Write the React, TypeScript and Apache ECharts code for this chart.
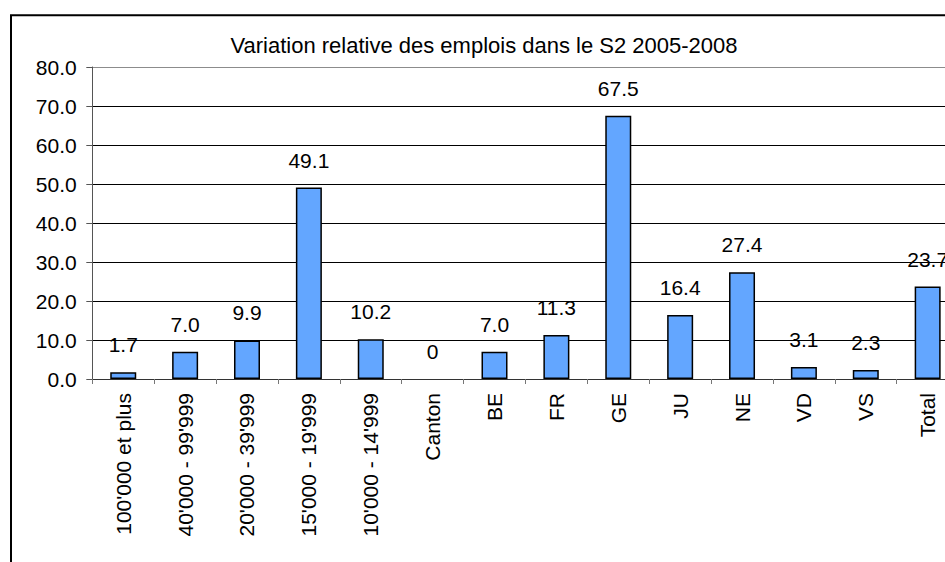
import React, { useEffect, useRef } from "react";
import * as echarts from "echarts";

const categories: string[] = [
  "100'000 et plus",
  "40'000 - 99'999",
  "20'000 - 39'999",
  "15'000 - 19'999",
  "10'000 - 14'999",
  "Canton",
  "BE",
  "FR",
  "GE",
  "JU",
  "NE",
  "VD",
  "VS",
  "Total",
];
const values: number[] = [1.7, 7.0, 9.9, 49.1, 10.2, 0, 7.0, 11.3, 67.5, 16.4, 27.4, 3.1, 2.3, 23.7];
const titleText = "Variation relative des emplois dans le S2 2005-2008";
const yMin = 0;
const yMax = 80;
const yInterval = 10;

const FONT = "'Liberation Sans', Arial, sans-serif";

export default function App() {
  const ref = useRef<HTMLDivElement>(null);
  useEffect(() => {
    if (!ref.current) return;
    const chart = echarts.init(ref.current, null, { renderer: "svg" });
    const gridColors = ["#000", "#000", "#000", "#000", "#000", "#000", "#000", "#000", "#8c8c8c"];
    const barData = values.map((v) =>
      v === 0 ? { value: v, itemStyle: { borderWidth: 0, opacity: 0 } } : v
    );
    chart.setOption({
      animation: false,
      backgroundColor: "#fff",
      textStyle: { fontFamily: FONT },
      graphic: [
        {
          type: "rect",
          shape: { x: 11, y: 15.3, width: 1100, height: 800 },
          style: { fill: "none", stroke: "#000", lineWidth: 2 },
          z: 10,
        },
        {
          type: "text",
          x: 484,
          y: 45.5,
          style: {
            text: titleText,
            fontSize: 22,
            fontFamily: FONT,
            fill: "#000",
            textAlign: "center",
            textVerticalAlign: "middle",
          },
        },
      ],
      grid: { left: 92.3, top: 67, right: 41.4, bottom: 241 },
      xAxis: {
        type: "category",
        data: categories,
        axisLine: { show: true, lineStyle: { color: "#333", width: 1 } },
        axisTick: { show: true, length: 5, alignWithLabel: false, lineStyle: { color: "#777" } },
        axisLabel: {
          rotate: 90,
          interval: 0,
          fontSize: 21,
          fontFamily: FONT,
          color: "#000",
          margin: 14,
        },
        splitLine: { show: false },
      },
      yAxis: {
        type: "value",
        min: yMin,
        max: yMax,
        interval: yInterval,
        axisLine: { show: true, lineStyle: { color: "#555", width: 1 } },
        axisTick: { show: true, length: 6, lineStyle: { color: "#555" } },
        axisLabel: {
          fontSize: 21,
          fontFamily: FONT,
          color: "#000",
          margin: 15.6,
          formatter: (v: number) => v.toFixed(1),
        },
        splitLine: { show: true, lineStyle: { color: gridColors, width: 1 } },
      },
      series: [
        {
          type: "bar",
          data: barData,
          barWidth: 26,
          itemStyle: { color: "#63A6FF", borderColor: "#000", borderWidth: 1.5 },
          label: {
            show: true,
            position: "top",
            distance: 17,
            fontSize: 21,
            fontFamily: FONT,
            color: "#000",
            opacity: 1,
            formatter: (p: any) => (p.value === 0 ? "0" : Number(p.value).toFixed(1)),
          },
        },
      ],
    });
    return () => chart.dispose();
  }, []);
  return (
    <div
      style={{
        position: "fixed",
        left: 0,
        top: 0,
        width: 945,
        height: 562,
        overflow: "hidden",
        background: "#fff",
      }}
    >
      <div ref={ref} style={{ width: 1000, height: 620 }} />
    </div>
  );
}
